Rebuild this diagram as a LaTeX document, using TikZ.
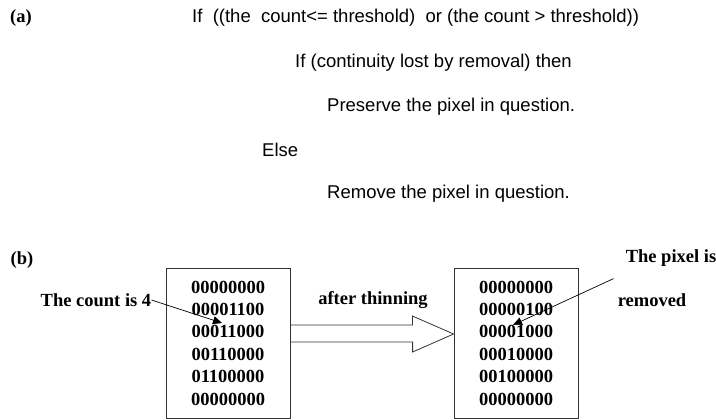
\documentclass[tikz,border=0pt]{standalone}
\usepackage{fontspec}
\setmainfont{Liberation Serif}
\newfontfamily\rulefont{Liberation Sans}
\usetikzlibrary{arrows.meta, calc}

\begin{document}
\begin{tikzpicture}[
    x=1pt, y=-1pt,
    rule/.style={font=\rulefont\fontsize{18.5}{22}\selectfont, anchor=west, inner sep=0pt},
    tag/.style={font=\bfseries\fontsize{18.5}{22}\selectfont, inner sep=0pt},
    grid/.style={rectangle, draw=black!80, line width=0.8pt, minimum width=124pt,
                 minimum height=150pt, align=center, inner sep=0pt,
                 font=\bfseries\fontsize{18.5}{22.4}\selectfont},
    pointer/.style={-{Triangle[length=9pt, width=8pt]}, line width=0.7pt},
    hollow/.style={draw=black!80, line width=0.8pt}
]
    \useasboundingbox (0,0) rectangle (716,420);

    % Part (a): the rule
    \node[tag] (parta) at (21,18) {(a)};
    \node[rule] (ifcount) at (192,18) {If \ ((the \ count<= threshold) \ or (the count > threshold))};
    \node[rule] (ifcont) at (295,63) {If (continuity lost by removal) then};
    \node[rule] (keep) at (327,107) {Preserve the pixel in question.};
    \node[rule] (other) at (262,150) {Else};
    \node[rule] (drop) at (327,194) {Remove the pixel in question.};

    % Part (b): before and after
    \node[tag] (partb) at (22,260) {(b)};
    \node[grid] (before) at (228,343) {00000000\\00001100\\00011000\\00110000\\01100000\\00000000};
    \node[grid] (after) at (516,343) {00000000\\00000100\\00001000\\00010000\\00100000\\00000000};

    % Labels
    \node[tag] (count) at (96,300) {The count is 4};
    \node[tag] (thin) at (373,300) {after thinning};
    \node[tag] (pixel) at (671,258) {The pixel is};
    \node[tag] (removed) at (652,300) {removed};

    % Pointers into the grids
    \coordinate (four) at (222,323);
    \coordinate (gone) at (513,325);
    \draw[pointer] (count.east) -- (four);
    \draw[pointer] ($(pixel.south west)+(-12,12)$) -- (gone);

    % Hollow arrow between grids
    \draw[hollow] ($(before.east)+(0,-18)$) -- ++(122,0) -- ++(0,-9)
        -- ($(after.west)+(0,-9)$) -- ++(-41,18) -- ++(0,-10)
        -- ($(before.east)+(0,-1)$);

\end{tikzpicture}
\end{document}
